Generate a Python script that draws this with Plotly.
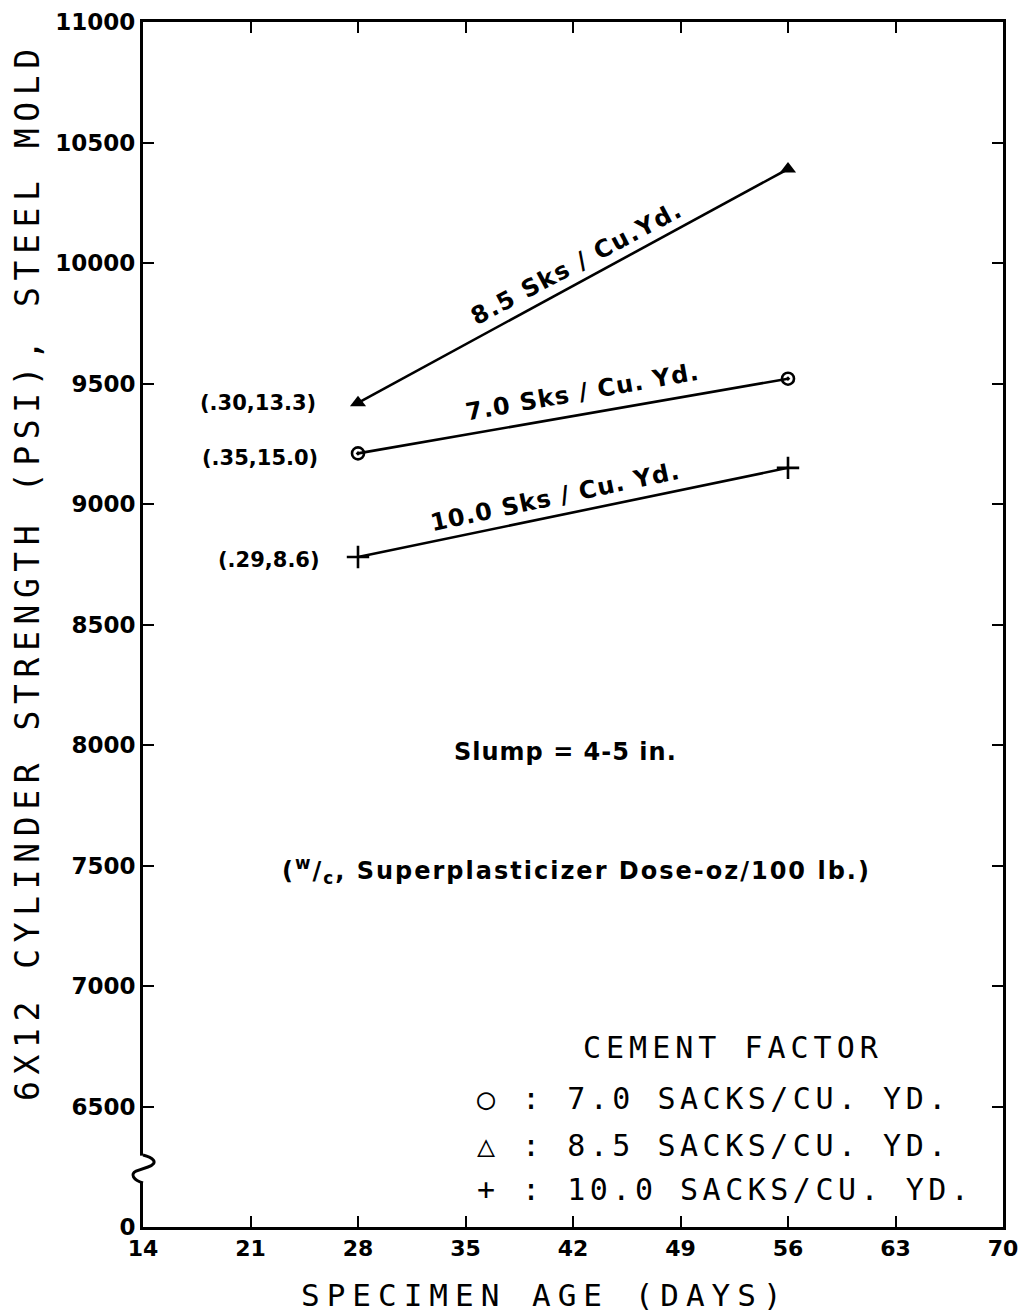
import plotly.graph_objects as go

# ---- data ----
ages = [28, 56]
strength_70 = [9210, 9520]
strength_85 = [9420, 10390]
strength_100 = [8780, 9150]

x_ticks = [14, 21, 28, 35, 42, 49, 56, 63, 70]
y_tick_vals = [6000, 6500, 7000, 7500, 8000, 8500, 9000, 9500, 10000, 10500, 11000]
y_tick_text = ["0", "6500", "7000", "7500", "8000", "8500", "9000", "9500", "10000", "10500", "11000"]

MONO = "DejaVu Sans Mono"
SANS = "DejaVu Sans"

fig = go.Figure()

fig.add_trace(go.Scatter(x=ages, y=strength_85, mode="lines+markers",
                         line=dict(color="black", width=2.6),
                         marker=dict(symbol="triangle-up", size=14, color="black"),
                         showlegend=False))
fig.add_trace(go.Scatter(x=ages, y=strength_70, mode="lines+markers",
                         line=dict(color="black", width=2.6),
                         marker=dict(symbol="circle-open-dot", size=12, color="black",
                                     line=dict(width=2.6, color="black")),
                         showlegend=False))
fig.add_trace(go.Scatter(x=ages, y=strength_100, mode="lines+markers",
                         line=dict(color="black", width=2.6),
                         marker=dict(symbol="cross-thin-open", size=16, color="black",
                                     line=dict(width=2.6, color="black")),
                         showlegend=False))

def sp(text, px):
    return f'<span style="letter-spacing:{px}px">{text}</span>'

fig.update_layout(
    width=1020, height=1315,
    margin=dict(l=143, r=17, t=22, b=88),
    paper_bgcolor="white", plot_bgcolor="white",
    xaxis=dict(range=[14, 70], tickvals=x_ticks, ticks="inside",
               ticklen=11, tickwidth=2, tickcolor="black", showline=True, linewidth=3,
               linecolor="black", mirror="ticks", showgrid=False, zeroline=False,
               automargin=False, ticklabeloverflow="allow",
               tickfont=dict(family=SANS, size=22, color="black", weight="bold")),
    yaxis=dict(range=[6000, 11000], tickvals=y_tick_vals, ticktext=y_tick_text,
               ticks="inside", ticklen=11, tickwidth=2, tickcolor="black",
               showline=True, linewidth=3, linecolor="black", mirror="ticks",
               showgrid=False, zeroline=False, automargin=False, ticklabeloverflow="allow",
               tickfont=dict(family=SANS, size=23, color="black", weight="bold")),
)

# axis titles (placed as annotations to match the reference offsets)
fig.add_annotation(xref="paper", yref="paper", x=0.4674, y=-0.0564, showarrow=False,
                   text=sp("SPECIMEN AGE (DAYS)", 7), xanchor="center", yanchor="middle",
                   font=dict(family=MONO, size=31, color="black"))
fig.add_annotation(xref="paper", yref="paper", x=-0.1337, y=0.5436, showarrow=False,
                   text=sp("6X12 CYLINDER STRENGTH (PSI), STEEL MOLD", 6.6), textangle=-90,
                   xanchor="center", yanchor="middle",
                   font=dict(family=MONO, size=33, color="black"))

# axis break
fig.add_shape(type="rect", xref="paper", yref="y", x0=-0.015, x1=0.015, y0=6186, y1=6296,
              fillcolor="white", line=dict(width=0), layer="above")
fig.add_shape(type="path", xref="paper", yref="y",
              path="M 0,6299 C 0.0105,6290 0.0198,6266 0.0058,6249 L -0.0081,6232 "
                   "C -0.0151,6220 -0.0116,6195 0,6183",
              line=dict(color="black", width=3), layer="above")

bold = dict(family=SANS, size=21, color="black", weight="bold")
bold24 = dict(family=SANS, size=24, color="black", weight="bold")

ann = [
    dict(x=42.26, y=10000, text=sp("8.5 Sks / Cu.Yd.", 1.5), textangle=-28, font=bold24),
    dict(x=42.65, y=9465, text=sp("7.0 Sks / Cu. Yd.", 1), textangle=-10, font=bold24),
    dict(x=40.83, y=9029, text=sp("10.0 Sks / Cu. Yd.", 1), textangle=-12, font=bold24),
    dict(x=25.4, y=9419, text="(.30,13.3)", xanchor="right", font=bold),
    dict(x=25.5, y=9191, text="(.35,15.0)", xanchor="right", font=bold),
    dict(x=25.65, y=8768, text="(.29,8.6)", xanchor="right", font=bold),
    dict(x=41.5, y=7971, text=sp("Slump = 4-5 in.", 1), font=bold24),
    dict(x=42.26, y=7481, font=bold24,
         text=sp("(<sup>w</sup>/<sub>c</sub>, Superplasticizer Dose-oz/100 lb.)", 2)),
]
for a in ann:
    a.setdefault("xanchor", "center")
    fig.add_annotation(xref="x", yref="y", showarrow=False, yanchor="middle", **a)

legf = dict(family=MONO, size=30, color="black")
fig.add_annotation(x=52.42, y=6743, xref="x", yref="y", showarrow=False, font=legf,
                   text=sp("CEMENT FACTOR", 5), xanchor="center", yanchor="middle")
legend_lines = [("○ : 7.0 SACKS/CU. YD.", 6535),
                ("△ : 8.5 SACKS/CU. YD.", 6340),
                ("+ : 10.0 SACKS/CU. YD.", 6154)]
for t, yv in legend_lines:
    fig.add_annotation(x=35.62, y=yv, xref="x", yref="y", showarrow=False, font=legf,
                       text=sp(t, 4.5), xanchor="left", yanchor="middle")

fig.write_html("out.html", config={"displayModeBar": False},
               post_script="document.body.style.margin='0';"
                           "document.documentElement.style.overflow='hidden';")
